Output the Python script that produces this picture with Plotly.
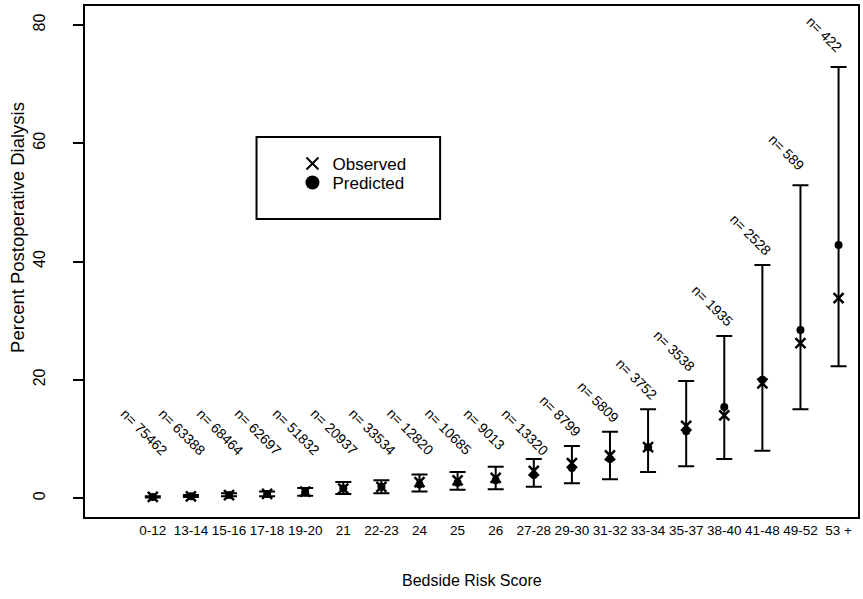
import plotly.graph_objects as go

categories = ["0-12", "13-14", "15-16", "17-18", "19-20", "21", "22-23", "24", "25", "26",
              "27-28", "29-30", "31-32", "33-34", "35-37", "38-40", "41-48", "49-52", "53 +"]
n_counts = [75462, 63388, 68464, 62697, 51832, 20937, 33534, 12820, 10685, 9013,
            13320, 8799, 5809, 3752, 3538, 1935, 2528, 589, 422]
observed = [0.2, 0.3, 0.5, 0.7, 1.1, 1.6, 1.9, 2.7, 3.0, 3.4,
            4.6, 5.9, 7.2, 8.6, 12.2, 14.0, 19.4, 26.2, 33.8]
predicted = [0.2, 0.3, 0.5, 0.7, 1.0, 1.6, 1.9, 2.3, 2.6, 3.0,
             3.9, 5.1, 6.6, 8.6, 11.3, 15.4, 20.0, 28.4, 42.8]
ci_lower = [0.1, 0.2, 0.3, 0.3, 0.4, 0.7, 0.8, 1.1, 1.4, 1.5,
            1.9, 2.5, 3.2, 4.4, 5.4, 6.6, 8.0, 15.0, 22.3]
ci_upper = [0.3, 0.5, 0.8, 1.1, 1.7, 2.7, 3.0, 4.0, 4.4, 5.3,
            6.6, 8.8, 11.2, 15.0, 19.8, 27.4, 39.4, 52.9, 72.9]

idx = list(range(len(categories)))
FONT = "Liberation Sans, Arial, sans-serif"

fig = go.Figure()

# confidence interval bars
mid = [(u + l) / 2 for u, l in zip(ci_upper, ci_lower)]
half = [(u - l) / 2 for u, l in zip(ci_upper, ci_lower)]
fig.add_trace(go.Scatter(
    x=idx, y=mid, mode="markers", showlegend=False, hoverinfo="skip",
    marker=dict(size=1, opacity=0),
    error_y=dict(type="data", array=half, symmetric=True, color="black",
                 thickness=2, width=8)))

fig.add_trace(go.Scatter(
    x=idx, y=predicted, mode="markers", showlegend=False, name="Predicted",
    marker=dict(symbol="circle", size=8, color="black")))
fig.add_trace(go.Scatter(
    x=idx, y=observed, mode="markers", showlegend=False, name="Observed",
    marker=dict(symbol="x-thin", size=10, color="black",
                line=dict(width=2.5, color="black"))))

# legend-only entries (each in its own legend for exact placement)
fig.add_trace(go.Scatter(
    x=[None], y=[None], mode="markers", name="Observed", legend="legend",
    marker=dict(symbol="x-thin", size=12, color="black",
                line=dict(width=2, color="black"))))
fig.add_trace(go.Scatter(
    x=[None], y=[None], mode="markers", name="Predicted", legend="legend2",
    marker=dict(symbol="circle", size=14, color="black")))

# n labels
for i, n, u in zip(idx, n_counts, ci_upper):
    fig.add_annotation(
        x=i, y=max(16.2, u + 9.6), xref="x", yref="y",
        text=f"n= {n}", showarrow=False, textangle=45,
        xanchor="left", yanchor="top", xshift=-38,
        font=dict(family=FONT, size=14, color="black"))

# axis titles
fig.add_annotation(x=0.5, y=-0.1233, xref="paper", yref="paper",
                   text="Bedside Risk Score", showarrow=False,
                   xanchor="center", yanchor="middle",
                   font=dict(family=FONT, size=16, color="black"))
fig.add_annotation(x=-0.0865, y=0.566, xref="paper", yref="paper",
                   text="Percent Postoperative Dialysis", showarrow=False,
                   textangle=-90, xanchor="center", yanchor="middle",
                   font=dict(family=FONT, size=18.5, color="black"))

# legend box
fig.add_shape(type="rect", xref="paper", yref="paper",
              x0=0.2219, x1=0.4594, y0=0.5832, y1=0.7436,
              line=dict(color="black", width=2), fillcolor="rgba(0,0,0,0)")

leg_common = dict(xanchor="left", yanchor="middle", bgcolor="rgba(0,0,0,0)",
                  borderwidth=0, font=dict(family=FONT, size=17, color="black"))
fig.update_layout(
    width=863, height=599,
    margin=dict(l=85, r=3, t=6, b=82),
    paper_bgcolor="white", plot_bgcolor="white",
    font=dict(family=FONT, color="black"),
    legend=dict(x=(293 - 85) / 775, y=(517 - 164) / 511, **leg_common),
    legend2=dict(x=(293 - 85) / 775, y=(517 - 183) / 511, **leg_common),
)
fig.update_xaxes(
    range=[-1.78, 18.51], tickmode="array", tickvals=idx, ticktext=categories,
    showline=True, mirror=True, linecolor="black", linewidth=2,
    ticks="", showgrid=False, zeroline=False,
    tickfont=dict(family=FONT, size=13.5, color="black"))
fig.update_yaxes(
    range=[-3.2, 83.2], tickmode="array", tickvals=[0, 20, 40, 60, 80],
    showline=True, mirror=True, linecolor="black", linewidth=2,
    ticks="outside", ticklen=10, tickwidth=2, tickcolor="black",
    tickangle=-90, ticklabelstandoff=22,
    showgrid=False, zeroline=False,
    tickfont=dict(family=FONT, size=16, color="black"))

fig.write_html("out.html", config={"displayModeBar": False},
               post_script="document.body.style.margin='0';document.body.style.padding='0';")
